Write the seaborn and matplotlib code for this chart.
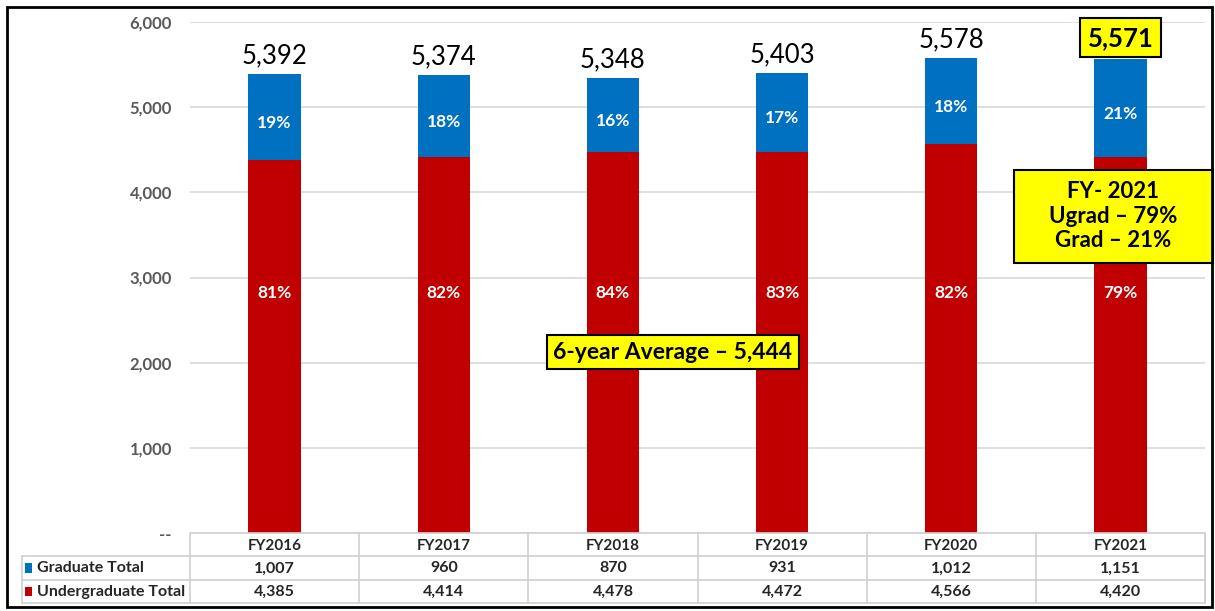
import numpy as np
import matplotlib
matplotlib.use("Agg")
import matplotlib.pyplot as plt
from matplotlib.patches import Rectangle
import seaborn as sns

# data
years = ["FY2016", "FY2017", "FY2018", "FY2019", "FY2020", "FY2021"]
grad = [1007, 960, 870, 931, 1012, 1151]
ugrad = [4385, 4414, 4478, 4472, 4566, 4420]
yticks = [0, 1000, 2000, 3000, 4000, 5000, 6000]

totals = [g + u for g, u in zip(grad, ugrad)]
avg = np.mean(totals)

BLUE = "#0070C0"
RED = "#C00000"
YELLOW = "#FFFF00"
GREY = "#595959"
TXT = "#262626"
LINE = "#D9D9D9"

sns.set_style("white")
plt.rcParams["font.family"] = ["Lato", "DejaVu Sans"]

W, H = 1215, 611
fig = plt.figure(figsize=(W / 100, H / 100), dpi=100)

# main chart area (pixel box converted to figure fractions)
x0, x1, ytop, ybot = 190, 1205, 22, 533
ax = fig.add_axes([x0 / W, 1 - ybot / H, (x1 - x0) / W, (ybot - ytop) / H])

# stacked bars: total (blue) underneath, undergrad (red) on top of it
sns.barplot(x=years, y=totals, color=BLUE, width=0.31, saturation=1, linewidth=0,
            ax=ax, zorder=2)
sns.barplot(x=years, y=ugrad, color=RED, width=0.31, saturation=1, linewidth=0,
            ax=ax, zorder=3)

ax.set_xlim(-0.5, len(years) - 0.5)
ax.set_ylim(0, 6000)
ax.set_yticks(yticks)
ax.set_yticklabels(["--" if v == 0 else f"{v:,}" for v in yticks],
                   fontsize=12, fontweight="bold", color=GREY)
ax.tick_params(axis="y", length=0, pad=13)
ax.set_xticks([])
ax.set_xlabel("")
ax.set_ylabel("")
for s in ax.spines.values():
    s.set_visible(False)
ax.yaxis.grid(True, color=LINE, lw=1.2, zorder=0)
ax.set_axisbelow(True)

for i, (g, u, t) in enumerate(zip(grad, ugrad, totals)):
    ax.text(i, u + g / 2 - 70, f"{round(100 * g / t)}%", ha="center", va="center",
            color="white", fontsize=12.5, fontweight="bold", zorder=5)
    ax.text(i, 2820, f"{round(100 * u / t)}%", ha="center", va="center",
            color="white", fontsize=12.5, fontweight="bold", zorder=5)
    if i < len(years) - 1:
        ax.annotate(f"{t:,}", (i, t), xytext=(0, 4), textcoords="offset points",
                    ha="center", va="bottom", fontsize=18.5, color="black")
    else:
        ax.annotate(f"{t:,}", (i, t), xytext=(0, 15), textcoords="offset points",
                    ha="center", va="center", fontsize=18.5, fontweight="bold",
                    color="black", zorder=6,
                    bbox=dict(boxstyle="square,pad=0.3", fc=YELLOW, ec="black", lw=1.5))

ax.text(2.355, 2125, f"6-year Average \u2013 {avg:,.0f}", ha="center", va="center",
        fontsize=16.5, fontweight="bold", color="black", zorder=6,
        bbox=dict(boxstyle="square,pad=0.3", fc=YELLOW, ec="black", lw=1.5))

# FY2021 call-out box
last_g, last_u, last_t = grad[-1], ugrad[-1], totals[-1]
ax.add_patch(Rectangle((4.371, 3170), 1.176, 1092, fc=YELLOW, ec="black", lw=1.5,
                       zorder=6, clip_on=False))
ax.text(4.955, 3722,
        f"FY- 2021\nUgrad \u2013 {round(100 * last_u / last_t)}%\nGrad \u2013 {round(100 * last_g / last_t)}%",
        ha="center", va="center", fontsize=16, fontweight="bold", color="black",
        linespacing=1.2, zorder=7, clip_on=False)

# data table below the bars
lx, tb = 22, 603
colw = (x1 - x0) / len(years)
left_units = -0.5 - (x0 - lx) / colw
axt = fig.add_axes([lx / W, 1 - tb / H, (x1 - lx) / W, (tb - ybot) / H])
axt.set_xlim(left_units, len(years) - 0.5)
axt.set_ylim(3, 0)
axt.axis("off")

tl = dict(color="#D0D0D0", lw=1.2, clip_on=False)
axt.plot([-0.5, len(years) - 0.5], [0, 0], **tl)
for r in (1, 2, 3):
    axt.plot([left_units, len(years) - 0.5], [r, r], **tl)
for c in range(len(years) + 1):
    axt.plot([c - 0.5, c - 0.5], [0, 3], **tl)
axt.plot([left_units, left_units], [1, 3], **tl)
axt.plot([len(years) - 0.5] * 2, [0, 3], **tl)

rows = [("Graduate Total", grad, BLUE), ("Undergraduate Total", ugrad, RED)]
for i, yr in enumerate(years):
    axt.text(i, 0.55, yr, ha="center", va="center", fontsize=11, fontweight="bold", color=TXT)
for r, (name, vals, col) in enumerate(rows, start=1):
    axt.add_patch(Rectangle((left_units + 0.015, r + 0.3), 0.045, 0.42, fc=col, ec="none",
                            clip_on=False))
    axt.text(left_units + 0.09, r + 0.52, name, ha="left", va="center", fontsize=11.5,
             fontweight="bold", color=TXT)
    for i, v in enumerate(vals):
        axt.text(i, r + 0.52, f"{v:,}", ha="center", va="center", fontsize=11.5,
                 fontweight="bold", color=TXT)

# outer frame
fig.patches.append(Rectangle((7 / W, 1 - 607 / H), 1205 / W, 600 / H, transform=fig.transFigure,
                             fill=False, ec="black", lw=2))

fig.savefig("out.png", dpi=100, facecolor="white")
